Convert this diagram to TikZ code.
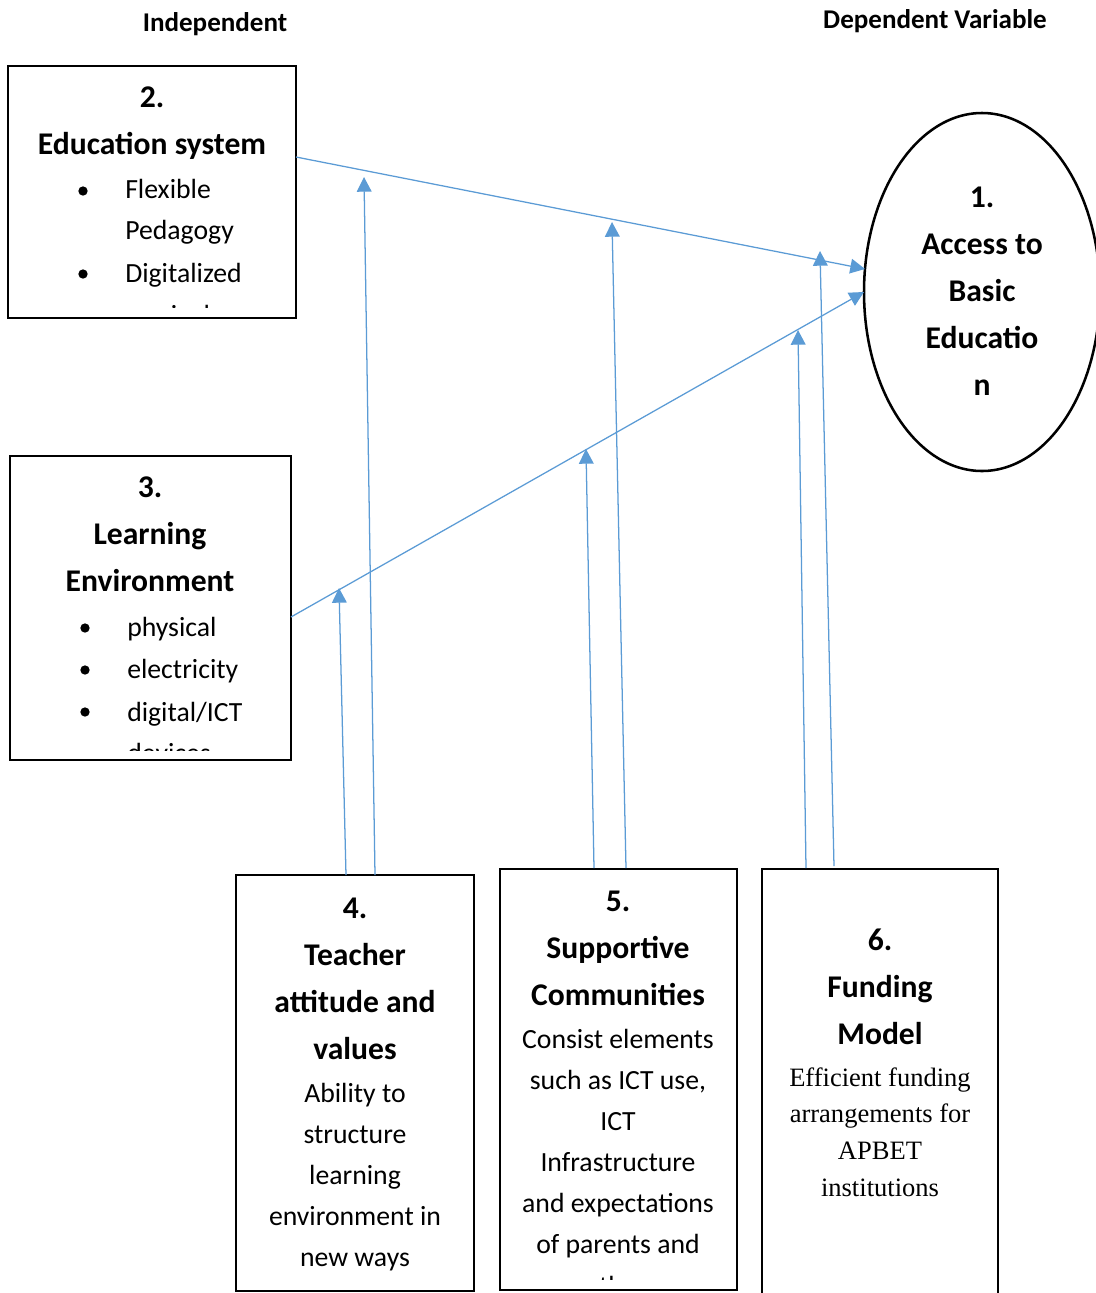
\documentclass[tikz,border=0pt]{standalone}
\usepackage{fontspec}
\setmainfont{Carlito}
\newfontfamily\tnr{Liberation Serif}
\usetikzlibrary{arrows.meta,shapes.geometric}
\definecolor{arrowblue}{HTML}{5B9BD5}
\begin{document}
\begin{tikzpicture}[x=0.75pt,y=-0.75pt,
  box/.style={draw,line width=1.9pt,inner sep=0pt,rectangle},
  hd/.style={anchor=base,inner sep=0pt,font=\bfseries\fontsize{23.7}{28}\selectfont},
  bd/.style={anchor=base,inner sep=0pt,font=\fontsize{20.8}{25}\selectfont},
  bdl/.style={anchor=base west,inner sep=0pt,font=\fontsize{20.8}{25}\selectfont},
  tm/.style={anchor=base,inner sep=0pt,font=\tnr\fontsize{19.9}{24}\selectfont},
  lbl/.style={anchor=base,inner sep=0pt,font=\bfseries\fontsize{20.3}{24}\selectfont},
  bul/.style={circle,fill,inner sep=0pt,minimum size=7pt},
  conn/.style={draw=arrowblue,line width=0.95pt,-{Triangle[length=11pt,width=11pt]}}
]
\useasboundingbox (0,0) rectangle (1096,1293);

% titles
\node[lbl] (tind) at (215,31) {Independent};
\node[lbl] (tdep) at (935,28) {Dependent Variable};

% boxes
\node[box,minimum width=216pt,minimum height=189pt] (b2) at (152,192) {};
\node[box,minimum width=210.75pt,minimum height=228pt] (b3) at (150.5,608) {};
\node[box,minimum width=178.5pt,minimum height=312pt] (b4) at (355,1083) {};
\node[box,minimum width=177.75pt,minimum height=315.75pt] (b5) at (618.5,1079.5) {};
\node[box,minimum width=177pt,minimum height=330.75pt] (b6) at (880,1089.5) {};
\node[draw,ellipse,line width=1.9pt,inner sep=0pt,minimum width=177pt,minimum height=268.5pt] (ell) at (982,292) {};

% ellipse text
\node[hd] (e1) at (982,207) {1.};
\node[hd] (e2) at (982,254) {Access to};
\node[hd] (e3) at (982,301) {Basic};
\node[hd] (e4) at (982,348) {Educatio};
\node[hd] (e5) at (982,395) {n};

% box 2 text
\begin{scope}
\clip (10,68) rectangle (294,307);
\node[hd] (b2a) at (152,107) {2.};
\node[hd] (b2b) at (152,154) {Education system};
\node[bul] (b2u1) at (83,191) {};
\node[bdl] (b2c) at (125,198) {Flexible};
\node[bdl] (b2d) at (125,239) {Pedagogy};
\node[bul] (b2u2) at (83,274) {};
\node[bdl] (b2e) at (125,282) {Digitalized};
\node[bdl] (b2f) at (125,324) {curriculum};
\end{scope}

% box 3 text
\begin{scope}
\clip (12,458) rectangle (289,750);
\node[hd] (b3a) at (150,497) {3.};
\node[hd] (b3b) at (150,544) {Learning};
\node[hd] (b3c) at (150,591) {Environment};
\node[bul] (b3u1) at (85,628) {};
\node[bdl] (b3d) at (127,636) {physical};
\node[bul] (b3u2) at (85,670) {};
\node[bdl] (b3e) at (127,678) {electricity};
\node[bul] (b3u3) at (85,712) {};
\node[bdl] (b3f) at (127,721) {digital/ICT};
\node[bdl] (b3g) at (127,762) {devices};
\end{scope}

% box 4 text
\node[hd] (b4a) at (355,918) {4.};
\node[hd] (b4b) at (355,965) {Teacher};
\node[hd] (b4c) at (355,1012) {attitude and};
\node[hd] (b4d) at (355,1059) {values};
\node[bd] (b4e) at (355,1102) {Ability to};
\node[bd] (b4f) at (355,1143) {structure};
\node[bd] (b4g) at (355,1184) {learning};
\node[bd] (b4h) at (355,1225) {environment in};
\node[bd] (b4i) at (355,1266) {new ways};

% box 5 text
\begin{scope}
\clip (502,871) rectangle (735,1279);
\node[hd] (b5a) at (618,911) {5.};
\node[hd] (b5b) at (618,958) {Supportive};
\node[hd] (b5c) at (618,1005) {Communities};
\node[bd] (b5d) at (618,1048) {Consist elements};
\node[bd] (b5e) at (618,1089) {such as ICT use,};
\node[bd] (b5f) at (618,1130) {ICT};
\node[bd] (b5g) at (618,1171) {Infrastructure};
\node[bd] (b5h) at (618,1212) {and expectations};
\node[bd] (b5i) at (618,1253) {of parents and};
\node[bd] (b5j) at (618,1295) {the};
\end{scope}

% box 6 text
\node[hd] (b6a) at (880,950) {6.};
\node[hd] (b6b) at (880,997) {Funding};
\node[hd] (b6c) at (880,1044) {Model};
\node[tm] (b6d) at (880,1086) {Efficient funding};
\node[tm] (b6e) at (880,1122) {arrangements for};
\node[tm] (b6f) at (880,1159) {APBET};
\node[tm] (b6g) at (880,1196) {institutions};

% connector points
\coordinate (s2) at (296,157);
\coordinate (s3) at (291,617);
\coordinate (s4a) at (346,875);
\coordinate (s4b) at (375,875);
\coordinate (s5a) at (594,868);
\coordinate (s5b) at (626,868);
\coordinate (s6a) at (806,868);
\coordinate (s6b) at (834,866);
\coordinate (t4a) at (339,588);
\coordinate (t4b) at (364,177);
\coordinate (t5a) at (586,449);
\coordinate (t5b) at (612,222);
\coordinate (t6a) at (798,330);
\coordinate (t6b) at (820,251);
\coordinate (e1in) at (865,269);
\coordinate (e2in) at (864,292);

% connectors
\draw[conn] (s2) -- (e1in);
\draw[conn] (s3) -- (e2in);
\draw[conn] (s4a) -- (t4a);
\draw[conn] (s4b) -- (t4b);
\draw[conn] (s5a) -- (t5a);
\draw[conn] (s5b) -- (t5b);
\draw[conn] (s6a) -- (t6a);
\draw[conn] (s6b) -- (t6b);
\end{tikzpicture}
\end{document}
